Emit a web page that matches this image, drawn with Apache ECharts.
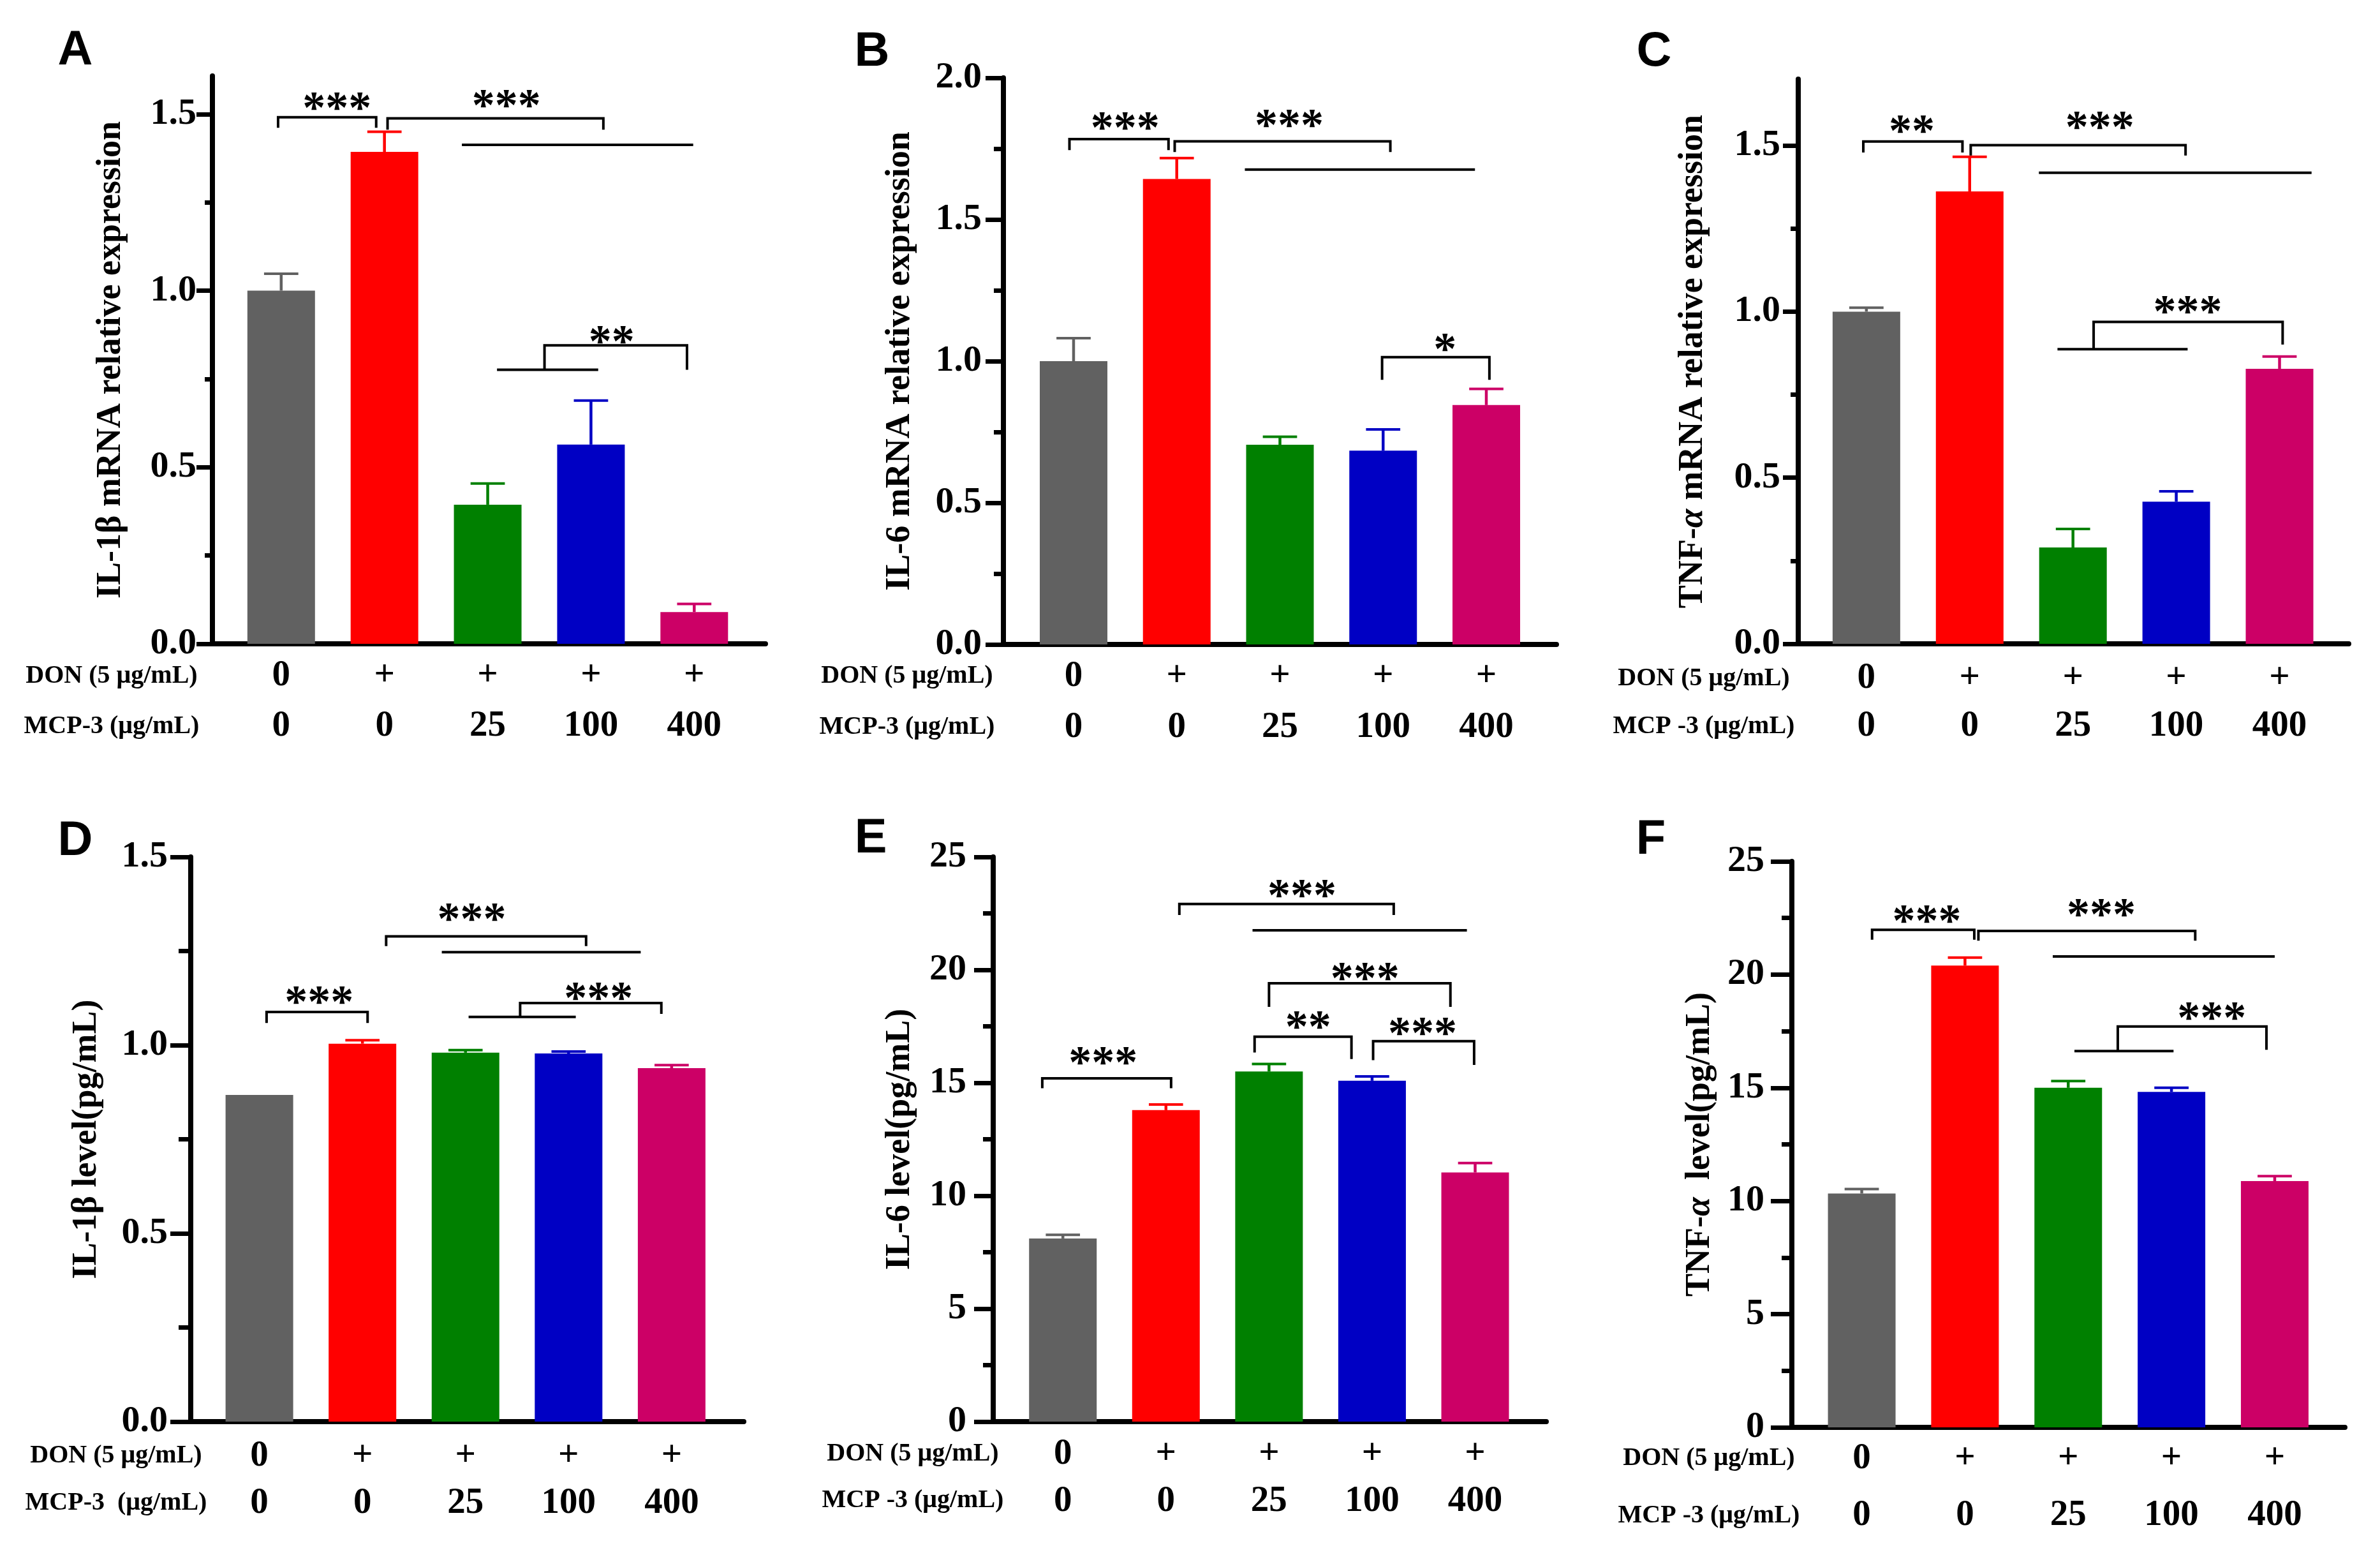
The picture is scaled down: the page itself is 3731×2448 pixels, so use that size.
<!DOCTYPE html>
<html><head><meta charset="utf-8">
<script src="https://cdn.jsdelivr.net/npm/echarts@6/dist/echarts.min.js"></script>
<style>html,body{margin:0;padding:0;background:#fff}#c{width:3731px;height:2448px}</style>
</head><body><div id="c"></div>
<script>
// ---------- data ----------
const groups = ['Control', 'DON', 'DON+MCP-3 25', 'DON+MCP-3 100', 'DON+MCP-3 400'];
const donRow = ['0', '+', '+', '+', '+'];
const mcpRow = ['0', '0', '25', '100', '400'];
const barColors = ['#616161', '#FF0000', '#008000', '#0000C4', '#CC0066'];

const il1bMrna = [1.00, 1.393, 0.394, 0.564, 0.090];
const il1bMrnaErr = [0.048, 0.057, 0.060, 0.125, 0.023];
const il6Mrna = [1.00, 1.643, 0.705, 0.684, 0.845];
const il6MrnaErr = [0.081, 0.074, 0.028, 0.075, 0.057];
const tnfMrna = [1.00, 1.362, 0.290, 0.428, 0.828];
const tnfMrnaErr = [0.012, 0.104, 0.056, 0.031, 0.037];
const il1bLevel = [0.868, 1.004, 0.980, 0.978, 0.939];
const il1bLevelErr = [0, 0.009, 0.007, 0.005, 0.008];
const il6Level = [8.11, 13.79, 15.50, 15.09, 11.03];
const il6LevelErr = [0.16, 0.25, 0.33, 0.19, 0.42];
const tnfLevel = [10.33, 20.40, 15.00, 14.82, 10.88];
const tnfLevelErr = [0.20, 0.35, 0.30, 0.18, 0.22];

// y tick labels (major ticks) and minor ticks
const labelsMrna = [0, 0.5, 1.0, 1.5];
const minorMrna = [0.25, 0.75, 1.25];
const labelsMrnaB = [0, 0.5, 1.0, 1.5, 2.0];
const minorMrnaB = [0.25, 0.75, 1.25, 1.75];
const labelsPg = [0, 5, 10, 15, 20, 25];
const minorPg = [2.5, 7.5, 12.5, 17.5, 22.5];

// significance annotations (data units): brackets [x1, x2, y, leftEnd, rightEnd]
const bracketsA = [[-0.03, 0.92, 1.491, 1.461, 1.461], [1.03, 3.12, 1.488, 1.456, 1.456], [2.55, 3.93, 0.845, 0.776, 0.776]];
const linesA = [[1.75, 3.99, 1.413], [2.09, 3.07, 0.776]];
const starsA = [[0.54, 1.532, '***'], [2.18, 1.539, '***'], [3.2, 0.871, '**']];
const bracketsB = [[-0.04, 0.92, 1.784, 1.745, 1.745], [0.98, 3.07, 1.776, 1.738, 1.738], [2.99, 4.03, 1.014, 0.934, 0.934]];
const linesB = [[1.66, 3.89, 1.676]];
const starsB = [[0.5, 1.841, '***'], [2.09, 1.85, '***'], [3.6, 1.06, '*']];
const bracketsC = [[-0.03, 0.93, 1.512, 1.479, 1.479], [1.01, 3.09, 1.501, 1.47, 1.47], [2.2, 4.03, 0.969, 0.887, 0.901]];
const linesC = [[1.67, 4.31, 1.418], [1.85, 3.11, 0.887]];
const starsC = [[0.44, 1.559, '**'], [2.26, 1.571, '***'], [3.11, 1.016, '***']];
const bracketsD = [[0.07, 1.05, 1.088, 1.059, 1.059], [1.23, 3.17, 1.289, 1.263, 1.263], [2.53, 3.9, 1.112, 1.075, 1.083]];
const linesD = [[1.77, 3.7, 1.247], [2.03, 3.07, 1.075]];
const starsD = [[0.58, 1.128, '***'], [2.06, 1.349, '***'], [3.29, 1.138, '***']];
const bracketsE = [[-0.2, 1.05, 15.2, 14.76, 14.76], [1.13, 3.21, 22.92, 22.43, 22.43], [2.0, 3.76, 19.41, 18.36, 18.36], [1.86, 2.8, 17.04, 16.34, 16.05], [3.01, 3.99, 16.84, 16.0, 15.79]];
const linesE = [[1.84, 3.92, 21.75]];
const starsE = [[0.39, 16.12, '***'], [2.32, 23.53, '***'], [2.93, 19.85, '***'], [2.38, 17.7, '**'], [3.49, 17.43, '***']];
const bracketsF = [[0.1, 1.09, 21.98, 21.54, 21.54], [1.13, 3.23, 21.93, 21.5, 21.5], [2.48, 3.92, 17.71, 16.62, 16.68]];
const linesF = [[1.85, 4.0, 20.8], [2.06, 3.02, 16.62]];
const starsF = [[0.63, 22.59, '***'], [2.32, 22.88, '***'], [3.39, 18.32, '***']];

// ---------- panels ----------
const SERIF = '"Liberation Serif", "Times New Roman", serif';
const panels = [
  {letter: 'A', vals: il1bMrna, errs: il1bMrnaErr, labels: labelsMrna, minor: minorMrna, dec: 1,
   name: 'IL-1β mRNA relative expression', donLabel: 'DON (5 μg/mL)', mcpLabel: 'MCP-3 (μg/mL)',
   br: bracketsA, ln: linesA, st: starsA,
   L: {left: 333, right: 1200, top: 119, bottom: 1009, xMin: -0.666, xMax: 4.69, yMax: 1.608, tickLen: 25, minorLen: 12, lblMargin: 25, nameGap: 132, rowH: 79, rowM: 11,
       letter: [118, 80], rowX: 175, donY: 1060, mcpY: 1139}},
  {letter: 'B', vals: il6Mrna, errs: il6MrnaErr, labels: labelsMrnaB, minor: minorMrnaB, dec: 1,
   name: 'IL-6 mRNA relative expression', donLabel: 'DON (5 μg/mL)', mcpLabel: 'MCP-3 (μg/mL)',
   br: bracketsB, ln: linesB, st: starsB,
   L: {left: 1573, right: 2440, top: 122, bottom: 1010, xMin: -0.68, xMax: 4.68, yMax: 2.0, tickLen: 28, minorLen: 15, lblMargin: 34, nameGap: 135, rowH: 80, rowM: 10,
       letter: [1367, 82], rowX: 1422, donY: 1060, mcpY: 1140}},
  {letter: 'C', vals: tnfMrna, errs: tnfMrnaErr, labels: labelsMrna, minor: minorMrna, dec: 1,
   name: 'TNF-{i|α} mRNA relative expression', donLabel: 'DON (5 μg/mL)', mcpLabel: 'MCP -3 (μg/mL)',
   br: bracketsC, ln: linesC, st: starsC,
   L: {left: 2819, right: 3682, top: 124, bottom: 1009, xMin: -0.66, xMax: 4.67, yMax: 1.7, tickLen: 24, minorLen: 12, lblMargin: 28, nameGap: 138, rowH: 75, rowM: 17,
       letter: [2593, 82], rowX: 2671, donY: 1064, mcpY: 1139}},
  {letter: 'D', vals: il1bLevel, errs: il1bLevelErr, labels: labelsMrna, minor: minorMrna, dec: 1,
   name: 'IL-1β level(pg/mL)', donLabel: 'DON (5 μg/mL)', mcpLabel: 'MCP-3  (μg/mL)',
   br: bracketsD, ln: linesD, st: starsD,
   L: {left: 299, right: 1166, top: 1343, bottom: 2228, xMin: -0.666, xMax: 4.70, yMax: 1.5, tickLen: 32, minorLen: 19, lblMargin: 36, nameGap: 136, rowH: 74, rowM: 17,
       letter: [118, 1319], rowX: 182, donY: 2282, mcpY: 2356}},
  {letter: 'E', vals: il6Level, errs: il6LevelErr, labels: labelsPg, minor: minorPg, dec: 0,
   name: 'IL-6 level(pg/mL)', donLabel: 'DON (5 μg/mL)', mcpLabel: 'MCP -3 (μg/mL)',
   br: bracketsE, ln: linesE, st: starsE,
   L: {left: 1557, right: 2424, top: 1343, bottom: 2228, xMin: -0.676, xMax: 4.69, yMax: 25, tickLen: 30, minorLen: 16, lblMargin: 42, nameGap: 119, rowH: 74, rowM: 14,
       letter: [1365, 1315], rowX: 1431, donY: 2279, mcpY: 2352}},
  {letter: 'F', vals: tnfLevel, errs: tnfLevelErr, labels: labelsPg, minor: minorPg, dec: 0,
   name: 'TNF-{i|α}  level(pg/mL)', donLabel: 'DON (5 μg/mL)', mcpLabel: 'MCP -3 (μg/mL)',
   br: bracketsF, ln: linesF, st: starsF,
   L: {left: 2809, right: 3676, top: 1350, bottom: 2237, xMin: -0.677, xMax: 4.68, yMax: 25, tickLen: 33, minorLen: 16, lblMargin: 43, nameGap: 117, rowH: 89, rowM: 5,
       letter: [2588, 1317], rowX: 2679, donY: 2286, mcpY: 2376}}
];

const grid = [], xAxis = [], yAxis = [], series = [], graphic = [];
const CAP_HALF = 0.166;

panels.forEach((p, i) => {
  const L = p.L;
  const yi = 2 * i;
  grid.push({left: L.left, top: L.top, width: L.right - L.left, height: L.bottom - L.top, containLabel: false});
  xAxis.push({
    type: 'value', gridIndex: i, min: L.xMin, max: L.xMax,
    axisLine: {show: true, onZero: false, lineStyle: {color: '#000', width: 8}},
    axisTick: {show: false}, splitLine: {show: false},
    axisLabel: {
      customValues: [0, 1, 2, 3, 4], margin: L.rowM, color: '#000',
      formatter: v => '{d|' + donRow[Math.round(v)] + '}\n{m|' + mcpRow[Math.round(v)] + '}',
      rich: {
        d: {fontFamily: SERIF, fontWeight: 'bold', fontSize: 57, lineHeight: L.rowH, color: '#000'},
        m: {fontFamily: SERIF, fontWeight: 'bold', fontSize: 57, lineHeight: L.rowH, color: '#000'}
      }
    }
  });
  // main y axis: line, major ticks, labels, name
  yAxis.push({
    type: 'value', gridIndex: i, position: 'left', min: 0, max: L.yMax,
    axisLine: {show: true, onZero: false, lineStyle: {color: '#000', width: 8}},
    axisTick: {show: true, length: L.tickLen, customValues: p.labels, lineStyle: {color: '#000', width: 7}},
    axisLabel: {customValues: p.labels, margin: L.lblMargin, color: '#000', fontFamily: SERIF, fontWeight: 'bold', fontSize: 58,
      formatter: v => Number(v).toFixed(p.dec)},
    splitLine: {show: false},
    name: p.name, nameLocation: 'middle', nameRotate: 90, nameGap: L.nameGap,
    nameTextStyle: {fontFamily: SERIF, fontWeight: 'bold', fontSize: 54, color: '#000',
      rich: {i: {fontFamily: SERIF, fontWeight: 'bold', fontStyle: 'italic', fontSize: 54, color: '#000'}}}
  });
  // companion y axis: minor ticks only
  yAxis.push({
    type: 'value', gridIndex: i, position: 'left', offset: 0, min: 0, max: L.yMax,
    axisLine: {show: false, onZero: false},
    axisTick: {show: true, length: L.minorLen, customValues: p.minor, lineStyle: {color: '#000', width: 7}},
    axisLabel: {show: false}, splitLine: {show: false}
  });
  // bars
  series.push({
    type: 'bar', xAxisIndex: i, yAxisIndex: yi, barWidth: 106, z: 2,
    data: p.vals.map((v, k) => ({value: [k, v], itemStyle: {color: barColors[k]}}))
  });
  // error bars (upper only)
  series.push({
    type: 'custom', xAxisIndex: i, yAxisIndex: yi, z: 3,
    data: p.vals.map((v, k) => [k, v, p.errs[k]]),
    renderItem: (params, api) => {
      const x = api.value(0), v = api.value(1), e = api.value(2);
      if (!e) return null;
      const c = barColors[Math.round(x)];
      const a = api.coord([x, v]), b = api.coord([x, v + e]);
      const l = api.coord([x - CAP_HALF, v + e]), r = api.coord([x + CAP_HALF, v + e]);
      return {type: 'group', children: [
        {type: 'line', shape: {x1: a[0], y1: a[1], x2: b[0], y2: b[1]}, style: {stroke: c, lineWidth: 4.5}},
        {type: 'line', shape: {x1: l[0], y1: l[1], x2: r[0], y2: r[1]}, style: {stroke: c, lineWidth: 4}}
      ]};
    }
  });
  // brackets
  series.push({
    type: 'custom', xAxisIndex: i, yAxisIndex: yi, z: 4,
    data: p.br,
    renderItem: (params, api) => {
      const d = p.br[params.dataIndex];
      const pts = [[d[0], d[3]], [d[0], d[2]], [d[1], d[2]], [d[1], d[4]]].map(q => api.coord(q));
      return {type: 'polyline', shape: {points: pts}, style: {stroke: '#000', lineWidth: 4, fill: null}};
    }
  });
  series.push({
    type: 'custom', xAxisIndex: i, yAxisIndex: yi, z: 4,
    data: p.ln,
    renderItem: (params, api) => {
      const d = p.ln[params.dataIndex];
      const a = api.coord([d[0], d[2]]), b = api.coord([d[1], d[2]]);
      return {type: 'line', shape: {x1: a[0], y1: a[1], x2: b[0], y2: b[1]}, style: {stroke: '#000', lineWidth: 4}};
    }
  });
  series.push({
    type: 'custom', xAxisIndex: i, yAxisIndex: yi, z: 5,
    data: p.st.map(s => [s[0], s[1]]),
    renderItem: (params, api) => {
      const s = p.st[params.dataIndex];
      const a = api.coord([s[0], s[1]]);
      return {type: 'text', x: a[0], y: a[1] + 12,
        style: {text: s[2], fill: '#000', font: 'bold 72px ' + SERIF, textAlign: 'center', textVerticalAlign: 'middle'}};
    }
  });
  // panel letter and row labels
  graphic.push({type: 'text', x: L.letter[0], y: L.letter[1],
    style: {text: p.letter, fill: '#000', font: 'bold 76px "Liberation Sans", Arial, sans-serif', textAlign: 'center', textVerticalAlign: 'middle'}});
  graphic.push({type: 'text', x: L.rowX, y: L.donY,
    style: {text: p.donLabel, fill: '#000', font: 'bold 40px ' + SERIF, textAlign: 'center', textVerticalAlign: 'middle'}});
  graphic.push({type: 'text', x: L.rowX, y: L.mcpY,
    style: {text: p.mcpLabel, fill: '#000', font: 'bold 40px ' + SERIF, textAlign: 'center', textVerticalAlign: 'middle'}});
});

const chart = echarts.init(document.getElementById('c'), null, {renderer: 'canvas'});
chart.setOption({
  backgroundColor: '#ffffff',
  animation: false,
  textStyle: {fontFamily: SERIF},
  grid, xAxis, yAxis, series, graphic
});
</script></body></html>
